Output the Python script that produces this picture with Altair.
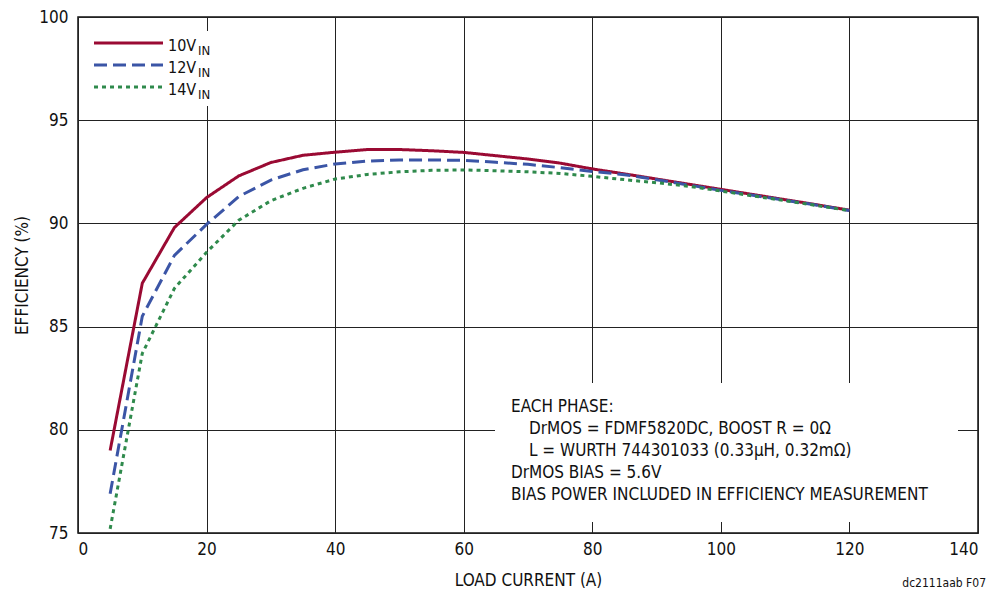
import altair as alt
import pandas as pd

# ---- data ----
load_current = [5, 10, 15, 20, 25, 30, 35, 40, 45, 50, 55, 60, 65, 70, 75, 80,
                85, 90, 95, 100, 105, 110, 115, 120]
eff_10v = [79.0, 87.1, 89.8, 91.25, 92.3, 92.95, 93.3, 93.45, 93.58, 93.58, 93.52, 93.44,
           93.28, 93.12, 92.92, 92.64, 92.4, 92.15, 91.9, 91.65, 91.4, 91.15, 90.9, 90.64]
eff_12v = [76.9, 85.5, 88.45, 89.95, 91.3, 92.1, 92.6, 92.88, 93.02, 93.07, 93.07, 93.06,
           92.96, 92.86, 92.7, 92.52, 92.36, 92.12, 91.86, 91.6, 91.36, 91.12, 90.88, 90.62]
eff_14v = [75.2, 83.7, 86.85, 88.6, 90.15, 91.1, 91.7, 92.15, 92.37, 92.5, 92.57, 92.59,
           92.55, 92.5, 92.42, 92.28, 92.12, 91.97, 91.8, 91.57, 91.33, 91.1, 90.86, 90.62]

series_names = ["10V", "12V", "14V"]
series_colors = ["#9a0a33", "#3b55a6", "#2f8a4c"]
series_dash = [[1, 0], [13, 6], [4, 4]]

note_lines = [
    "EACH PHASE:",
    "DrMOS = FDMF5820DC, BOOST R = 0\u03a9",
    "L = WURTH 744301033 (0.33\u00b5H, 0.32m\u03a9)",
    "DrMOS BIAS = 5.6V",
    "BIAS POWER INCLUDED IN EFFICIENCY MEASUREMENT",
]
note_indent = [False, True, True, False, False]

x_ticks = [0, 20, 40, 60, 80, 100, 120, 140]
y_ticks = [75, 80, 85, 90, 95, 100]

FONT = "Liberation Sans Narrow, DejaVu Sans Condensed, Arial Narrow, sans-serif"

rows = []
for name, vals in zip(series_names, [eff_10v, eff_12v, eff_14v]):
    for x, y in zip(load_current, vals):
        rows.append({"series": name, "current": x, "eff": y})
df = pd.DataFrame(rows)

W, H = 900, 516

lines = alt.Chart(df).mark_line(strokeWidth=3).encode(
    x=alt.X("current:Q", scale=alt.Scale(domain=[0, 140], nice=False),
            axis=alt.Axis(values=x_ticks, title="LOAD CURRENT (A)", labelPadding=8,
                          titlePadding=15)),
    y=alt.Y("eff:Q", scale=alt.Scale(domain=[75, 100], nice=False, zero=False),
            axis=alt.Axis(values=y_ticks, title="EFFICIENCY (%)", labelPadding=10,
                          titlePadding=7)),
    color=alt.Color("series:N", scale=alt.Scale(domain=series_names, range=series_colors),
                    legend=None),
    strokeDash=alt.StrokeDash("series:N",
                              scale=alt.Scale(domain=series_names, range=series_dash),
                              legend=None),
)

one = pd.DataFrame({"a": [0]})

# annotation box (white, masks grid)
note_box = alt.Chart(one).mark_rect(color="white").encode(
    x=alt.value(417), x2=alt.value(880), y=alt.value(366), y2=alt.value(505))

note_layers = []
for i, (txt, ind) in enumerate(zip(note_lines, note_indent)):
    note_layers.append(
        alt.Chart(one).mark_text(font=FONT, fontSize=17, align="left", baseline="middle",
                                 color="#111").encode(
            x=alt.value(451 if ind else 433), y=alt.value(390 + 22 * i),
            text=alt.value(txt)))

# legend
legend_box = alt.Chart(one).mark_rect(color="white").encode(
    x=alt.value(7), x2=alt.value(142), y=alt.value(14), y2=alt.value(89))
legend_layers = []
for i, (name, col, dash) in enumerate(zip(series_names, series_colors, series_dash)):
    yy = 26 + 22 * i
    legend_layers.append(
        alt.Chart(one).mark_rule(color=col, strokeWidth=3, strokeDash=dash).encode(
            x=alt.value(16), x2=alt.value(85), y=alt.value(yy)))
    legend_layers.append(
        alt.Chart(one).mark_text(font=FONT, fontSize=16, align="left", baseline="alphabetic",
                                 color="#111").encode(
            x=alt.value(90), y=alt.value(yy + 8), text=alt.value(name)))
    legend_layers.append(
        alt.Chart(one).mark_text(font=FONT, fontSize=13, align="left", baseline="alphabetic",
                                 color="#111").encode(
            x=alt.value(120), y=alt.value(yy + 12), text=alt.value("IN")))

footnote = alt.Chart(one).mark_text(font=FONT, fontSize=12, align="right", baseline="middle",
                                    color="#111").encode(
    x=alt.value(908), y=alt.value(566), text=alt.value("dc2111aab F07"))

chart = alt.layer(lines, note_box, *note_layers, legend_box, *legend_layers, footnote).properties(
    width=W, height=H,
    autosize=alt.AutoSizeParams(type="none"),
    padding={"left": 70, "top": 9, "right": 8, "bottom": 57},
).configure_view(
    stroke="#111", strokeWidth=1.5
).configure_axis(
    grid=True, gridColor="#222", gridWidth=1, gridOpacity=1,
    domain=False, ticks=False,
    labelFont=FONT, labelFontSize=17, labelColor="#111",
    titleFont=FONT, titleFontSize=17, titleColor="#111", titleFontWeight="normal",
)

chart.save("out.html", embed_options={"renderer": "svg", "actions": False})
